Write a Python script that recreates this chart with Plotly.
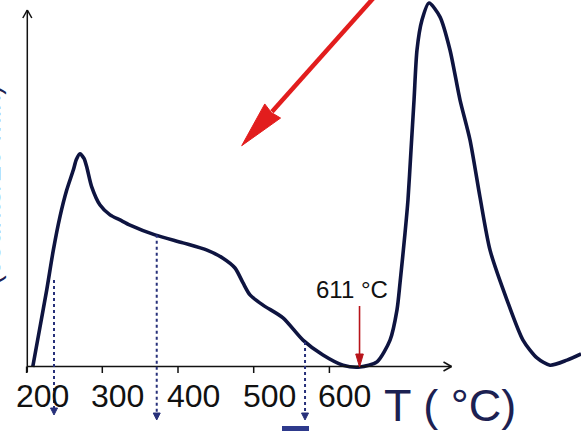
import math
import plotly.graph_objects as go

# ---------------- data ----------------
temp_C = [208.1, 217.7, 226.6, 235.3, 244.1, 253.0, 261.7, 265.7, 270.5, 275.8,
          279.4, 286.0, 297.0, 310.2, 323.4, 336.6, 369.6, 406.6, 438.3, 459.4,
          475.3, 485.9, 495.1, 512.3, 538.7, 565.1, 591.5, 618.0, 640.4, 662.9,
          680.1, 689.3, 693.3, 699.9, 703.8, 707.8, 711.8, 715.7, 722.3, 731.6,
          746.1, 759.3, 772.5, 785.7, 798.9, 812.2, 834.6, 855.7, 874.2, 891.4,
          913.9, 932.4]
signal = [0.0, 11.0, 21.2, 32.1, 41.3, 48.6, 54.1, 57.0, 58.6, 57.3,
          55.0, 49.5, 44.5, 41.8, 40.4, 39.0, 36.3, 34.1, 32.1, 29.9,
          27.2, 23.1, 19.8, 17.0, 13.5, 7.4, 3.3, 0.5, 0.0, 1.4,
          7.4, 15.7, 23.1, 36.8, 45.9, 59.6, 73.4, 87.1, 95.3, 100.0,
          96.2, 87.1, 73.4, 62.4, 46.7, 32.1, 18.4, 7.4, 2.5, 0.5,
          1.9, 3.6]

tick_values = [200, 300, 400, 500, 600]
tick_labels = ["200", "300", "400", "500", "600"]

marker_T = [236.2, 371.9, 567.8]      # dotted guide arrows
marker_top = [23.9, 36.3, 6.9]

peak_T = 639.8
peak_label = "611 °C"
x_title = "T ( °C)"
y_title = "(counts/20 min)"

# ---------------- geometry ----------------
W, H = 581, 431
XR = [164.86, 932.36]
YR = [-17.58, 100.82]

def px(x):
    return (x - XR[0]) / (XR[1] - XR[0]) * W

def py(y):
    return (YR[1] - y) / (YR[1] - YR[0]) * H

def dx(p):
    return XR[0] + p / W * (XR[1] - XR[0])

def dy(p):
    return YR[1] - p / H * (YR[1] - YR[0])

shapes = []

def arrow(tip, tail, head_len, half_w, color, width, dash="solid", notch=0.0):
    tx, ty = tip
    sx, sy = tail
    L = math.hypot(sx - tx, sy - ty)
    ux, uy = (sx - tx) / L, (sy - ty) / L
    nx, ny = -uy, ux
    bx, by = tx + ux * head_len, ty + uy * head_len
    shapes.append(dict(type="line", xref="x", yref="y",
                       x0=dx(sx), y0=dy(sy), x1=dx(bx - ux * 1), y1=dy(by - uy * 1),
                       line=dict(color=color, width=width, dash=dash)))
    c1 = (bx + nx * half_w, by + ny * half_w)
    c2 = (bx - nx * half_w, by - ny * half_w)
    nb = (bx - ux * notch, by - uy * notch)
    path = (f"M {dx(tx)},{dy(ty)} L {dx(c1[0])},{dy(c1[1])} "
            f"L {dx(nb[0])},{dy(nb[1])} L {dx(c2[0])},{dy(c2[1])} Z")
    shapes.append(dict(type="path", xref="x", yref="y", path=path,
                       fillcolor=color, line=dict(color=color, width=1)))

def chevron(tip, direction, length, half_w, color, width):
    tx, ty = tip
    ux, uy = direction
    nx, ny = -uy, ux
    for s in (1, -1):
        ex, ey = tx - ux * length + s * nx * half_w, ty - uy * length + s * ny * half_w
        shapes.append(dict(type="line", xref="x", yref="y",
                           x0=dx(tx), y0=dy(ty), x1=dx(ex), y1=dy(ey),
                           line=dict(color=color, width=width)))

AX = "#111111"
x_axis_y = py(0) - 0.5
y_axis_x = px(tick_values[0]) + 0.7

# x axis
shapes.append(dict(type="line", xref="x", yref="y",
                   x0=dx(y_axis_x), y0=dy(x_axis_y), x1=dx(451.5), y1=dy(x_axis_y),
                   line=dict(color=AX, width=1.5)))
chevron((451.5, x_axis_y), (1, 0), 8, 4.5, AX, 1.5)
# y axis
shapes.append(dict(type="line", xref="x", yref="y",
                   x0=dx(y_axis_x), y0=dy(x_axis_y + 6), x1=dx(y_axis_x), y1=dy(10),
                   line=dict(color=AX, width=1.5)))
chevron((y_axis_x, 10), (0, -1), 8, 4.5, AX, 1.5)
# ticks
for t in tick_values:
    shapes.append(dict(type="line", xref="x", yref="y",
                       x0=t, y0=dy(x_axis_y), x1=t, y1=dy(x_axis_y + 6.5),
                       line=dict(color=AX, width=1.5)))

# dotted guide arrows
NAVY_DOT = "#27307a"
dot_tips = [415, 420, 420]
for T, top, tip_py in zip(marker_T, marker_top, dot_tips):
    arrow((px(T), tip_py), (px(T), py(top)), 7, 3.5, NAVY_DOT, 2, dash="dot")

# red 611 arrow
arrow((px(peak_T), py(0)), (px(peak_T), 306), 13, 3.8, "#b8141a", 1.6)

# big red arrow
tip_big = (241.7, 145.7)
arrow(tip_big, (386, -16), 46.5, 10.6, "#e21d1d", 4.5, notch=2)

# small blue bar at bottom
shapes.append(dict(type="rect", xref="x", yref="y",
                   x0=dx(282), x1=dx(309), y0=dy(426), y1=dy(432),
                   fillcolor="#2e3a8c", line=dict(width=0)))

# ---------------- figure ----------------
fig = go.Figure()
fig.add_trace(go.Scatter(x=temp_C, y=signal, mode="lines",
                         line=dict(color="#0e1440", width=3.6, shape="spline", smoothing=0.7),
                         hoverinfo="skip"))

FONT = "Liberation Sans, Arial, sans-serif"
annotations = []
for t, lab in zip(tick_values, tick_labels):
    annotations.append(dict(x=t, y=dy(396), xref="x", yref="y", text=lab,
                            showarrow=False, xanchor="center", yanchor="middle",
                            xshift=15.5, font=dict(family=FONT, size=32, color="#111111")))
annotations.append(dict(x=dx(351.5), y=dy(289.5), xref="x", yref="y", text=peak_label,
                        showarrow=False, xanchor="center", yanchor="middle",
                        font=dict(family=FONT, size=24, color="#111111")))
annotations.append(dict(x=dx(450), y=dy(405), xref="x", yref="y", text=x_title,
                        showarrow=False, xanchor="center", yanchor="middle",
                        font=dict(family="Liberation Sans Narrow, " + FONT, size=45, color="#1c2152")))
annotations.append(dict(x=-10 / W, y=1 - 185 / H, xref="paper", yref="paper", text=y_title,
                        showarrow=False, xanchor="center", yanchor="middle", textangle=-90,
                        font=dict(family=FONT, size=29, color="#1c2152")))

fig.update_layout(
    width=W, height=H,
    margin=dict(l=0, r=0, t=0, b=0),
    paper_bgcolor="white", plot_bgcolor="white",
    showlegend=False,
    xaxis=dict(visible=False, range=XR, fixedrange=True),
    yaxis=dict(visible=False, range=YR, fixedrange=True),
    shapes=shapes,
    annotations=annotations,
)

fig.write_html("out.html", config={"displayModeBar": False},
               post_script="document.body.style.margin='0';document.body.style.padding='0';"
                           "document.body.style.overflow='hidden';")
